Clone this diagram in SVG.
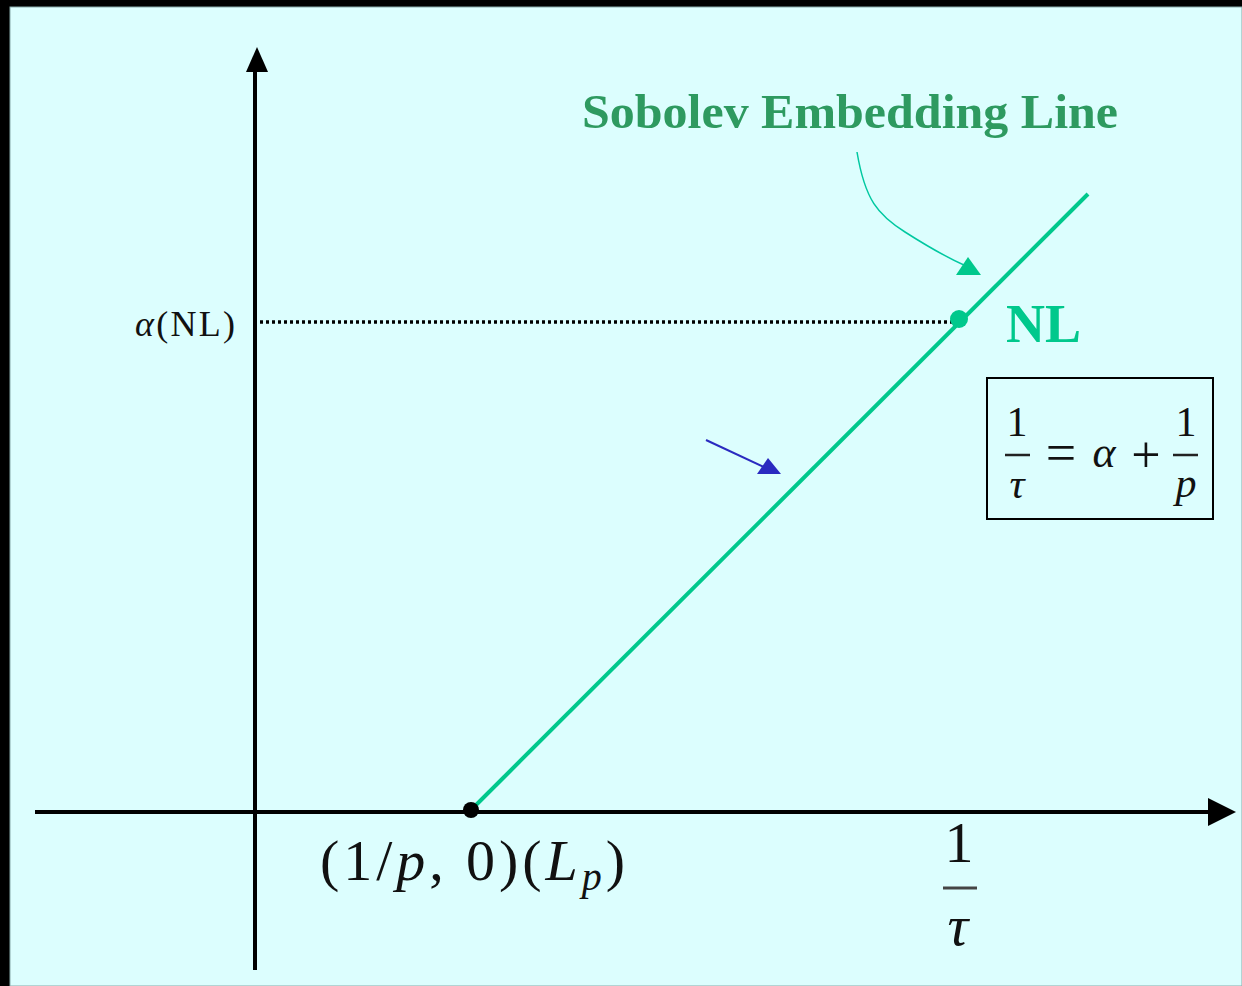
<svg xmlns="http://www.w3.org/2000/svg" width="1242" height="986" viewBox="0 0 1242 986">
<style>
.ax{stroke:#000;stroke-width:4;fill:none}
.m{font-family:"Liberation Serif","DejaVu Serif",serif;fill:#111}
.i{font-style:italic}
</style>
<rect x="0" y="0" width="1242" height="986" fill="#000"/>
<rect x="10" y="7" width="1232" height="979" fill="#dcfefe" stroke="#8aa" stroke-width="1"/>
<g id="axes">
<line class="ax" x1="255" y1="970" x2="255" y2="68"/>
<polygon points="257,47 246,72 268,72" fill="#000"/>
<line class="ax" x1="35" y1="812" x2="1212" y2="812"/>
<polygon points="1236,812 1208,798 1208,826" fill="#000"/>
</g>
<g id="connectors">
<line x1="260" y1="322" x2="955" y2="322" stroke="#000" stroke-width="3.5" stroke-dasharray="3 3"/>
<line x1="471" y1="810" x2="1088" y2="194" stroke="#00c88c" stroke-width="4"/>
<path d="M857,152 C865,200 878,215 905,232 C930,248 948,258 966,266" fill="none" stroke="#00c8a0" stroke-width="1.5"/>
<polygon points="968,257 956,275 981,275" fill="#00c88c"/>
<line x1="706" y1="440" x2="764" y2="467" stroke="#2a2ac0" stroke-width="2"/>
<polygon points="768,458 757,474 781,474" fill="#2a2ac0"/>
</g>
<g id="points">
<circle cx="471" cy="810" r="8" fill="#000"/>
<circle cx="959" cy="319" r="9" fill="#00c88c"/>
</g>
<g id="title">
<text x="582" y="128" font-family="Liberation Serif,serif" font-weight="bold" font-size="48" fill="#2e9a60" textLength="536" lengthAdjust="spacingAndGlyphs">Sobolev Embedding Line</text>
</g>
<g id="nl-label">
<text x="1006" y="342" font-family="Liberation Serif,serif" font-weight="bold" font-size="54" fill="#00c88c">NL</text>
</g>
<g id="alpha-label">
<text class="m" x="135" y="336" font-size="36" textLength="100" lengthAdjust="spacing"><tspan class="i">α</tspan>(NL)</text>
</g>
<g id="lp-label">
<text class="m" x="320" y="880" font-size="58" textLength="305" lengthAdjust="spacing">(1/<tspan class="i">p</tspan>, 0)(<tspan class="i">L</tspan><tspan class="i" font-size="40" dy="10">p</tspan><tspan dy="-10">)</tspan></text>
</g>
<g id="tau-label">
<text class="m" x="959" y="862" font-size="58" text-anchor="middle">1</text>
<line x1="943" y1="888" x2="977" y2="888" stroke="#444" stroke-width="3"/>
<text class="m i" x="958" y="945" font-size="58" text-anchor="middle">τ</text>
</g>
<g id="formula">
<rect x="987" y="378" width="226" height="141" fill="#dcfefe" stroke="#000" stroke-width="2"/>
<text class="m" x="1017" y="436" font-size="42" text-anchor="middle">1</text>
<line x1="1005" y1="455" x2="1030" y2="455" stroke="#222" stroke-width="2.5"/>
<text class="m i" x="1017" y="498" font-size="42" text-anchor="middle">τ</text>
<text class="m" x="1061" y="471" font-size="54" text-anchor="middle">=</text>
<text class="m i" x="1104" y="467" font-size="44" text-anchor="middle">α</text>
<text class="m" x="1146" y="472" font-size="52" text-anchor="middle">+</text>
<text class="m" x="1186" y="436" font-size="42" text-anchor="middle">1</text>
<line x1="1173" y1="455" x2="1198" y2="455" stroke="#222" stroke-width="2.5"/>
<text class="m i" x="1186" y="497" font-size="42" text-anchor="middle">p</text>
</g>
</svg>
